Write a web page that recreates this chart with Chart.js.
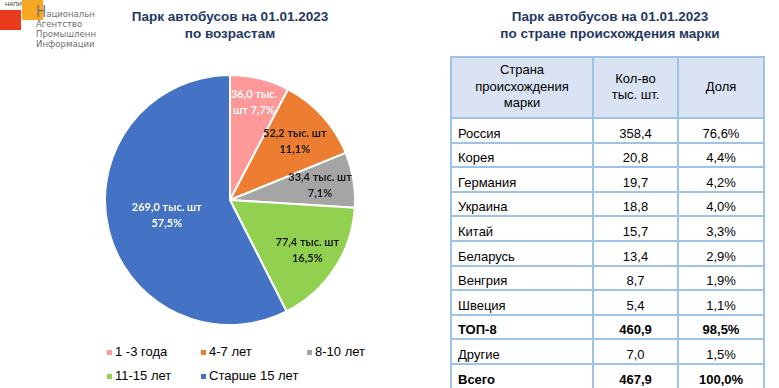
<!DOCTYPE html>
<html>
<head>
<meta charset="utf-8">
<script src="https://cdn.jsdelivr.net/npm/chart.js@4.4.0/dist/chart.umd.min.js"></script>
<style>
  body { margin: 0; width: 779px; height: 388px; overflow: hidden; background: #fff; position: relative; font-family: "Liberation Sans", Arial, sans-serif; }
  .title { position: absolute; color: #1f3864; font-weight: bold; font-size: 13.5px; line-height: 17px; text-align: center; }
  #pieBox { position: absolute; left: 104px; top: 74px; width: 252px; height: 252px; }
  #legend { position: absolute; left: 0; top: 344px; width: 440px; font-size: 13px; color: #000; }
  .lg { position: absolute; white-space: nowrap; }
  .lg i { position: absolute; left: 0; top: 6px; width: 5px; height: 5px; }
  .lg span { position: absolute; left: 8px; top: 0; }
  table { position: absolute; left: 450px; top: 56px; border-collapse: collapse; font-size: 13px; table-layout: fixed; }
  td, th { border: 2px solid #9dc3e6; padding: 0 6px 1px 6px; }
  th { background: #dae3f3; font-weight: normal; height: 58px; line-height: 16.5px; }
  td { height: 21.6px; vertical-align: bottom; text-align: center; line-height: 15px; }
  td.c { text-align: left; }
  tr.b td { font-weight: bold; }
  /* логотип */
  .logo { position: absolute; left: 0; top: 0; }
  .sq1 { position: absolute; left: 0; top: 10px; width: 21px; height: 20px; background: #ea3a1e; }
  .sq2 { position: absolute; left: 22px; top: 0; width: 21px; height: 20px; background: #f7a823; }
  .napi { position: absolute; left: 5px; top: 1px; font-size: 6px; color: #333; }
  .org { position: absolute; left: 36px; top: 7px; font-family: "DejaVu Sans Condensed", "Liberation Sans Narrow", sans-serif; font-size: 9.5px; line-height: 10px; color: #707070; }
  .org b { font-weight: normal; font-size: 15px; line-height: 10px; }
</style>
</head>
<body>
<div class="logo">
  <div class="sq2"></div>
  <div class="sq1"></div>
  <div class="napi">НАПИ</div>
  <div class="org"><b>Н</b>ациональн<br>Агентство<br>Промышленн<br>Информации</div>
</div>

<div class="title" style="left:90px; top:8px; width:280px;">Парк автобусов на 01.01.2023<br>по возрастам</div>
<div class="title" style="left:460px; top:8px; width:300px;">Парк автобусов на 01.01.2023<br>по стране происхождения марки</div>

<div id="pieBox"><canvas id="pieCanvas"></canvas></div>
<div id="legend"></div>
<table id="brandTable"></table>

<script>
// возрастная структура парка
const ageLabels = ['1 -3 года', '4-7 лет', '8-10 лет', '11-15 лет', 'Старше 15 лет'];
const ageValues = [36.0, 52.2, 33.4, 77.4, 269.0];
const agePct = [7.7, 11.1, 7.1, 16.5, 57.5];
const ageColors = ['#ff9999', '#ed7d31', '#a5a5a5', '#92d050', '#4472c4'];

// таблица по странам
const countries = ['Россия', 'Корея', 'Германия', 'Украина', 'Китай', 'Беларусь', 'Венгрия', 'Швеция', 'ТОП-8', 'Другие', 'Всего'];
const countryCounts = [358.4, 20.8, 19.7, 18.8, 15.7, 13.4, 8.7, 5.4, 460.9, 7.0, 467.9];
const countryShares = [76.6, 4.4, 4.2, 4.0, 3.3, 2.9, 1.9, 1.1, 98.5, 1.5, 100.0];
const boldRows = ['ТОП-8', 'Всего'];

function fmt(v) {
    return v.toFixed(1).replace('.', ',');
}

// подписи на секторах
const sliceLabels = {
    id: 'sliceLabels',
    afterDatasetsDraw(chart, args, opts) {
        const ctx = chart.ctx;
        const meta = chart.getDatasetMeta(0);
        ctx.save();
        ctx.font = opts.font;
        ctx.textAlign = 'center';
        ctx.textBaseline = 'middle';
        meta.data.forEach(function(arc, i) {
            let p = arc.getProps(['x', 'y', 'startAngle', 'endAngle', 'outerRadius'], true);
            let mid = (p.startAngle + p.endAngle) / 2;
            let r = p.outerRadius * opts.radius[i];
            let x = p.x + Math.cos(mid) * r;
            let y = p.y + Math.sin(mid) * r;
            // перенос слов
            let words = [fmt(ageValues[i]), 'тыс.', 'шт', fmt(agePct[i]) + '%'];
            let lines = [];
            let cur = '';
            words.forEach(function(w) {
                let test = cur ? cur + ' ' + w : w;
                if (cur && ctx.measureText(test).width > opts.wrap[i]) {
                    lines.push(cur);
                    cur = w;
                } else {
                    cur = test;
                }
            });
            lines.push(cur);
            ctx.fillStyle = opts.colors[i];
            let y0 = y - (lines.length - 1) * opts.lineHeight / 2;
            lines.forEach(function(l, k) {
                ctx.fillText(l, x, y0 + k * opts.lineHeight);
            });
        });
        ctx.restore();
    }
};

new Chart(document.getElementById('pieCanvas'), {
    type: 'pie',
    data: {
        labels: ageLabels,
        datasets: [{
            data: ageValues,
            backgroundColor: ageColors,
            borderColor: '#ffffff',
            borderWidth: 2
        }]
    },
    options: {
        responsive: true,
        maintainAspectRatio: false,
        animation: false,
        layout: { padding: 0 },
        plugins: {
            legend: { display: false },
            tooltip: { enabled: false },
            sliceLabels: {
                font: 'bold 11px Lato, "Open Sans", sans-serif',
                lineHeight: 16,
                radius: [0.8, 0.7, 0.73, 0.74, 0.52],
                wrap: [48, 74, 74, 74, 74],
                colors: ['#ffffff', '#1a1a1a', '#1a1a1a', '#1a1a1a', '#ffffff']
            }
        }
    },
    plugins: [sliceLabels]
});

// легенда
let legend = document.getElementById('legend');
let colX = [107, 201, 307];
ageLabels.forEach(function(lab, i) {
    let d = document.createElement('div');
    d.className = 'lg';
    d.style.left = colX[i % 3] + 'px';
    d.style.top = (Math.floor(i / 3) * 24) + 'px';
    d.innerHTML = '<i style="background:' + ageColors[i] + '"></i><span>' + lab + '</span>';
    legend.appendChild(d);
});

// таблица
let table = document.getElementById('brandTable');
let html = '<colgroup><col style="width:142px"><col style="width:85px"><col style="width:86px"></colgroup>';
html += '<tr><th>Страна<br>происхождения<br>марки</th><th>Кол-во<br>тыс. шт.</th><th>Доля</th></tr>';
countries.forEach(function(c, i) {
    let cls = boldRows.indexOf(c) >= 0 ? ' class="b"' : '';
    html += '<tr' + cls + '><td class="c">' + c + '</td><td>' + fmt(countryCounts[i]) + '</td><td>' + fmt(countryShares[i]) + '%</td></tr>';
});
table.innerHTML = html;
</script>
</body>
</html>
